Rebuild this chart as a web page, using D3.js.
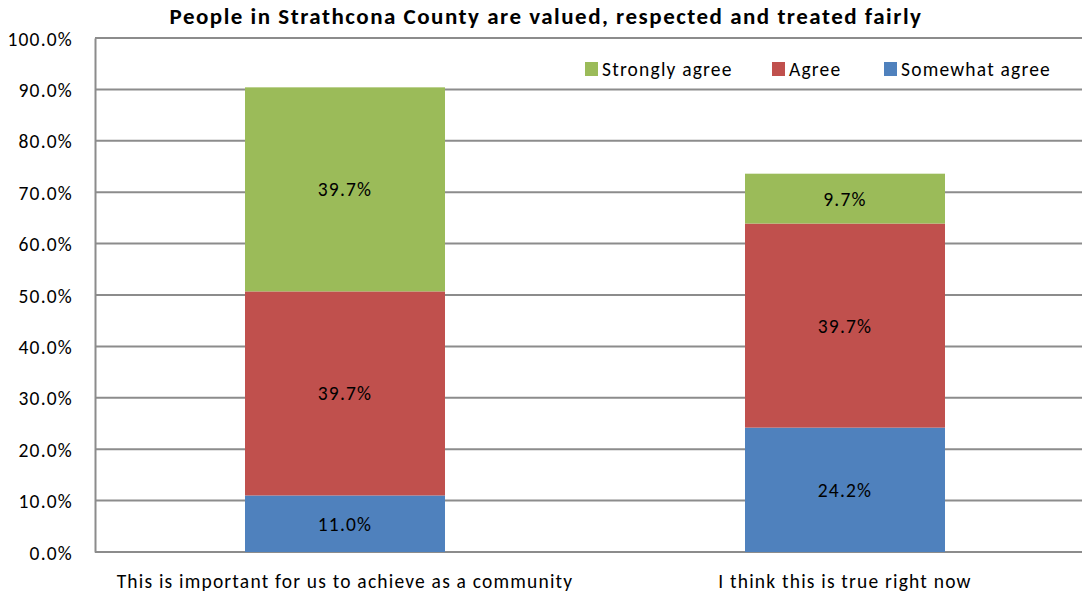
<!DOCTYPE html>
<html>
<head>
<meta charset="utf-8">
<script src="https://cdn.jsdelivr.net/npm/d3@7"></script>
<style>
body { margin: 0; background: #fff; }
text { font-family: Carlito, "Liberation Sans", Arial, sans-serif; fill: #000; }
</style>
</head>
<body>
<script>
// Data
var categories = ["This is important for us to achieve as a community", "I think this is true right now"];
var seriesNames = ["Somewhat agree", "Agree", "Strongly agree"];
var somewhatAgree = [11.0, 24.2];
var agree = [39.7, 39.7];
var stronglyAgree = [39.7, 9.7];
var yTicks = [0, 10, 20, 30, 40, 50, 60, 70, 80, 90, 100];
var colors = {"Somewhat agree": "#4F81BD", "Agree": "#C0504D", "Strongly agree": "#9BBB59"};
var legendOrder = ["Strongly agree", "Agree", "Somewhat agree"];

var W = 1082, H = 598;
var margin = {left: 95, top: 38, bottom: 46};
var fs = "19.5px", ls = "1.2px";

var svg = d3.select("body").append("svg")
    .attr("width", W)
    .attr("height", H);

var rows = categories.map(function(c, i) {
    return {cat: c, "Somewhat agree": somewhatAgree[i], "Agree": agree[i], "Strongly agree": stronglyAgree[i]};
});
var stacked = d3.stack().keys(seriesNames)(rows);

var xScale = d3.scaleBand()
    .domain(categories)
    .range([margin.left, margin.left + 1000])
    .paddingInner(0.6)
    .paddingOuter(0.3);

var yScale = d3.scaleLinear()
    .domain([0, 100])
    .range([H - margin.bottom, margin.top]);

//gridlines
svg.append("g")
    .selectAll("line")
    .data(yTicks)
    .enter().append("line")
    .attr("x1", margin.left)
    .attr("x2", W)
    .attr("y1", function(d) { return yScale(d); })
    .attr("y2", function(d) { return yScale(d); })
    .attr("stroke", "#8c8c8c")
    .attr("stroke-width", 2);

//y axis
var yAxis = d3.axisLeft(yScale)
    .tickValues(yTicks)
    .tickSize(0)
    .tickPadding(22)
    .tickFormat(function(d) { return d.toFixed(1) + "%"; });

var gy = svg.append("g")
    .attr("transform", "translate(" + margin.left + ",0)")
    .call(yAxis);
gy.select(".domain").attr("stroke", "#8c8c8c").attr("stroke-width", 2);
gy.selectAll("text")
    .attr("font-size", fs)
    .attr("letter-spacing", ls)
    .attr("dy", "0.36em");

//bars
var layers = svg.selectAll(".layer")
    .data(stacked)
    .enter().append("g")
    .attr("class", "layer")
    .attr("fill", function(d) { return colors[d.key]; });

layers.selectAll("rect")
    .data(function(d) { return d; })
    .enter().append("rect")
    .attr("x", function(d) { return xScale(d.data.cat); })
    .attr("width", xScale.bandwidth())
    .attr("y", function(d) { return yScale(d[1]); })
    .attr("height", function(d) { return yScale(d[0]) - yScale(d[1]); });

//bar labels
layers.selectAll(".val")
    .data(function(d) { return d.map(function(p) { return {p: p, key: d.key}; }); })
    .enter().append("text")
    .attr("class", "val")
    .attr("x", function(d) { return xScale(d.p.data.cat) + xScale.bandwidth() / 2; })
    .attr("y", function(d) { return yScale((d.p[0] + d.p[1]) / 2); })
    .attr("dy", "0.36em")
    .attr("text-anchor", "middle")
    .attr("font-size", fs)
    .attr("letter-spacing", ls)
    .text(function(d) { return d.p.data[d.key].toFixed(1) + "%"; });

//x axis labels
svg.append("g")
    .selectAll("text")
    .data(categories)
    .enter().append("text")
    .attr("x", function(d) { return xScale(d) + xScale.bandwidth() / 2; })
    .attr("y", H - 10)
    .attr("text-anchor", "middle")
    .attr("font-size", fs)
    .attr("letter-spacing", ls)
    .text(function(d) { return d; });

//title
svg.append("text")
    .attr("x", 546)
    .attr("y", 24)
    .attr("text-anchor", "middle")
    .attr("font-size", "23px")
    .attr("letter-spacing", "1.5px")
    .attr("font-weight", "bold")
    .text("People in Strathcona County are valued, respected and treated fairly");

//legend
var legendX = [585, 772, 884];
var legend = svg.selectAll(".legend")
    .data(legendOrder)
    .enter().append("g")
    .attr("class", "legend")
    .attr("transform", function(d, i) { return "translate(" + legendX[i] + ",62)"; });

legend.append("rect")
    .attr("width", 13)
    .attr("height", 14)
    .attr("fill", function(d) { return colors[d]; });

legend.append("text")
    .attr("x", 17)
    .attr("y", 7)
    .attr("dy", "0.36em")
    .attr("font-size", fs)
    .attr("letter-spacing", ls)
    .text(function(d) { return d; });
</script>
</body>
</html>
